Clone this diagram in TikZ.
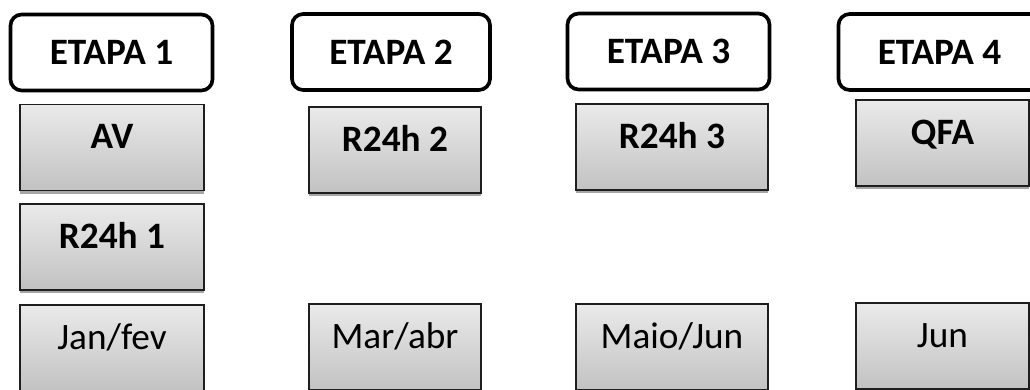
\documentclass[tikz,border=0pt]{standalone}
\usepackage{fontspec}
\setmainfont{Carlito}
\usepackage{xcolor}
\definecolor{BoxTop}{RGB}{234,234,234}
\definecolor{BoxBottom}{RGB}{194,194,194}
\definecolor{BoxLine}{RGB}{30,30,30}
\usepackage{tikz}
\usetikzlibrary{shadows}
\tikzset{
  % Stage header, rounded white box
  stagebox/.style={
    rectangle, rounded corners=8pt,
    draw=black, line width=2.6pt,
    fill=white,
    minimum width=5.05cm, minimum height=1.9cm,
    font=\fontsize{26.5}{30}\selectfont\bfseries,
    inner sep=0pt
  },
  % Gray gradient boxes under each stage
  itembox/.style={
    rectangle, draw=BoxLine, line width=1.1pt,
    top color=BoxTop, bottom color=BoxBottom,
    drop shadow={shadow xshift=0pt, shadow yshift=-2.2pt, fill=gray!70, opacity=1},
    minimum width=4.6cm, minimum height=2.15cm,
    text height=17pt, text depth=15.4pt,
    font=\fontsize{26.5}{30}\selectfont,
    inner sep=0pt
  },
  itembox bold/.style={itembox, font=\fontsize{26.5}{30}\selectfont\bfseries},
}
\begin{document}
\begin{tikzpicture}[x=0.025cm, y=-0.025cm]

  %% Page frame
  \useasboundingbox (0,0) rectangle (1030,389);
  \clip (0,0) rectangle (1030,389);

  %% Stage headers
  \node[stagebox] (stage1) at (111.5,52.5) {ETAPA 1};
  \node[stagebox, minimum width=4.95cm] (stage2) at (391,52) {ETAPA 2};
  \node[stagebox] (stage3) at (668.5,51.5) {ETAPA 3};
  \node[stagebox] (stage4) at (939.5,52) {ETAPA 4};

  %% Stage 1
  \node[itembox bold] (av) at (112,147.5) {AV};
  \node[itembox bold] (r24h1) at (112,247) {R24h 1};
  \node[itembox] (janfev) at (112,348) {Jan/fev};

  %% Stage 2
  \node[itembox bold, minimum width=4.3cm] (r24h2) at (395,150) {R24h 2};
  \node[itembox, minimum width=4.3cm] (marabr) at (395,347) {Mar/abr};

  %% Stage 3
  \node[itembox bold, minimum width=4.8cm] (r24h3) at (672,147) {R24h 3};
  \node[itembox, minimum width=4.8cm] (maiojun) at (672,347) {Maio/Jun};

  %% Stage 4
  \node[itembox bold, minimum width=4.33cm] (qfa) at (942.5,143) {QFA};
  \node[itembox, minimum width=4.33cm] (jun) at (942.5,346) {Jun};

\end{tikzpicture}
\end{document}
